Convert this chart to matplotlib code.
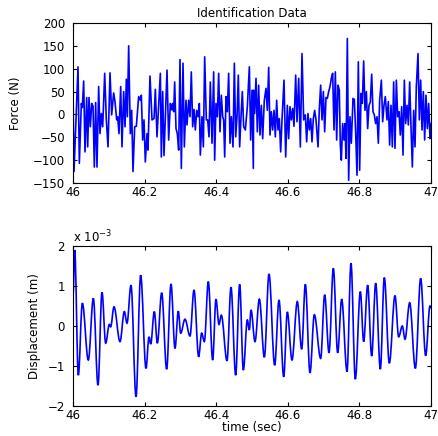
import numpy as np
import matplotlib
matplotlib.use("Agg")
import matplotlib.pyplot as plt
from matplotlib.path import Path
from matplotlib.patches import PathPatch

# ---------------- data ----------------
force_t = [
    0.0000, 0.0028, 0.0140, 0.0177, 0.0233, 0.0261, 0.0298, 0.0335, 0.0382, 0.0410,
    0.0447, 0.0484, 0.0522, 0.0559, 0.0596, 0.0633, 0.0670, 0.0717, 0.0754, 0.0791,
    0.0829, 0.0885, 0.0931, 0.0978, 0.1034, 0.1080, 0.1136, 0.1173, 0.1220, 0.1248,
    0.1285, 0.1332, 0.1369, 0.1415, 0.1453, 0.1490, 0.1518, 0.1555, 0.1601, 0.1639,
    0.1676, 0.1723, 0.1769, 0.1834, 0.1881, 0.1909, 0.1946, 0.1983, 0.2020, 0.2067,
    0.2095, 0.2151, 0.2207, 0.2263, 0.2300, 0.2346, 0.2393, 0.2440, 0.2467, 0.2505,
    0.2542, 0.2626, 0.2672, 0.2719, 0.2756, 0.2784, 0.2812, 0.2840, 0.2877, 0.2914,
    0.2952, 0.2989, 0.3026, 0.3073, 0.3110, 0.3156, 0.3184, 0.3231, 0.3268, 0.3305,
    0.3343, 0.3380, 0.3417, 0.3454, 0.3492, 0.3529, 0.3557, 0.3603, 0.3641, 0.3678,
    0.3724, 0.3762, 0.3799, 0.3836, 0.3883, 0.3929, 0.3957, 0.3994, 0.4032, 0.4069,
    0.4106, 0.4143, 0.4181, 0.4209, 0.4237, 0.4274, 0.4311, 0.4348, 0.4386, 0.4423,
    0.4469, 0.4507, 0.4544, 0.4581, 0.4618, 0.4655, 0.4693, 0.4730, 0.4767, 0.4814,
    0.4870, 0.4926, 0.4963, 0.5000, 0.5037, 0.5047, 0.5075, 0.5112, 0.5149, 0.5186,
    0.5223, 0.5261, 0.5298, 0.5344, 0.5391, 0.5428, 0.5466, 0.5503, 0.5540, 0.5577,
    0.5615, 0.5652, 0.5689, 0.5726, 0.5763, 0.5801, 0.5838, 0.5894, 0.5941, 0.5987,
    0.6024, 0.6061, 0.6099, 0.6136, 0.6173, 0.6220, 0.6257, 0.6304, 0.6350, 0.6397,
    0.6443, 0.6490, 0.6527, 0.6564, 0.6601, 0.6639, 0.6676, 0.6713, 0.6750, 0.6788,
    0.6844, 0.6881, 0.6918, 0.6955, 0.6993, 0.7030, 0.7067, 0.7104, 0.7142, 0.7179,
    0.7216, 0.7253, 0.7291, 0.7328, 0.7365, 0.7402, 0.7439, 0.7467, 0.7495, 0.7533,
    0.7570, 0.7598, 0.7626, 0.7663, 0.7700, 0.7737, 0.7775, 0.7821, 0.7858, 0.7896,
    0.7933, 0.7970, 0.8007, 0.8045, 0.8082, 0.8119, 0.8156, 0.8194, 0.8231, 0.8268,
    0.8305, 0.8343, 0.8380, 0.8417, 0.8454, 0.8492, 0.8529, 0.8566, 0.8613, 0.8650,
    0.8687, 0.8724, 0.8771, 0.8808, 0.8845, 0.8883, 0.8920, 0.8957, 0.8994, 0.9032,
    0.9069, 0.9106, 0.9143, 0.9181, 0.9218, 0.9255, 0.9292, 0.9330, 0.9367, 0.9404,
    0.9441, 0.9479, 0.9516, 0.9553, 0.9590, 0.9637, 0.9674, 0.9711, 0.9749, 0.9786,
    0.9823, 0.9860, 0.9898, 0.9935, 0.9972, 1.0000,
]
force_v = [
    46, -125, 104, -107, 24, 15, 73, -82, 37, -71,
    37, -27, 24, 18, -115, 26, -115, 61, -42, 2,
    -27, 90, -12, -71, 91, -1, 47, 28, -12, -5,
    -42, 61, -71, 50, -27, 77, -5, 150, -42, 9,
    -125, -27, -26, 39, 31, 42, -56, -12, -104, -42,
    -78, 84, -12, -9, 55, -49, 20, 90, -93, 50,
    -90, 97, -56, 24, 10, 24, 6, 71, -31, -42,
    -78, 120, -118, 112, -71, 31, -23, 31, -5, 93,
    -27, 11, -34, 9, -5, 24, -89, -5, -71, 126,
    -12, -12, -49, 71, -63, 93, -100, 24, -5, 90,
    -38, 42, -5, -12, -93, 39, 6, 90, -63, -5,
    -71, 112, -49, -5, 86, -71, -5, 50, -27, -34,
    17, 104, -56, 53, -118, 53, 2, 79, -38, 64,
    -45, 20, -53, 31, 57, 9, 103, -45, 6, -34,
    9, -49, 31, -34, -9, -82, -12, 75, -93, 20,
    -53, 17, -12, 13, -26, 86, -16, 79, -71, 133,
    -12, -1, -60, 2, -34, -9, -60, -9, 9, -12,
    -71, 13, 64, -12, 50, -38, 37, 35, 50, 61,
    79, 90, -34, 93, -56, 64, 53, -67, -100, -20,
    -56, -20, -96, 166, -144, -5, -63, 35, 33, -40,
    -133, 115, -122, 46, 24, 117, 9, 50, -31, 20,
    27, 88, 6, -1, -20, -5, -63, 31, 75, -16,
    20, 39, -12, 28, -67, 20, -71, 71, -74, 75,
    -5, 6, -45, 17, -89, 75, -20, 20, -23, 71,
    -27, -115, 9, -71, 61, 133, -12, 75, -34, 50,
    -56, 42, -31, 24, -53, -20,
]

# displacement turning points (time offset from 46 s, value in units of 1e-3 m)
disp_t = [
    0.0000, 0.0047, 0.0149, 0.0261, 0.0428, 0.0568, 0.0698, 0.0810, 0.0913, 0.1015,
    0.1052, 0.1145, 0.1313, 0.1434, 0.1508, 0.1620, 0.1760, 0.1890, 0.2039, 0.2123,
    0.2170, 0.2272, 0.2356, 0.2477, 0.2616, 0.2737, 0.2849, 0.2942, 0.3008, 0.3128,
    0.3268, 0.3380, 0.3510, 0.3594, 0.3669, 0.3780, 0.3901, 0.3994, 0.4078, 0.4143,
    0.4302, 0.4413, 0.4544, 0.4655, 0.4758, 0.4870, 0.4925, 0.4972, 0.5084, 0.5205,
    0.5345, 0.5475, 0.5633, 0.5754, 0.5885, 0.5987, 0.6117, 0.6266, 0.6387, 0.6490,
    0.6620, 0.6741, 0.6918, 0.7030, 0.7151, 0.7272, 0.7393, 0.7505, 0.7654, 0.7765,
    0.7886, 0.8026, 0.8119, 0.8231, 0.8343, 0.8455, 0.8585, 0.8696, 0.8836, 0.8994,
    0.9097, 0.9199, 0.9274, 0.9404, 0.9563, 0.9711, 0.9851, 0.9972, 1.0000,
]
disp_v = [
    0.75, 1.90, -1.23, 0.57, -0.85, 0.69, -1.48, 0.84, -0.43, 0.04,
    -0.02, 0.48, -0.39, 0.36, 0.07, 1.02, -1.77, 1.27, -1.06, -0.27,
    -0.45, 0.36, -0.43, 0.83, -1.08, 1.05, -0.56, 0.37, -0.18, 0.17,
    -0.25, 0.90, -0.77, -0.18, -0.39, 1.11, -0.85, 0.67, 0.04, 0.27,
    -0.87, 0.97, -1.23, 1.04, -1.10, 0.15, -0.10, 0.40, -0.39, 0.67,
    -0.78, 1.30, -0.98, 0.65, -1.27, 0.35, -0.85, 0.61, -0.58, 1.04,
    -1.17, 0.28, -0.81, 0.78, -0.67, 1.44, -0.67, 0.67, -1.14, 1.57,
    -1.33, 0.86, -0.39, 1.02, -0.75, 1.07, -1.08, 1.21, -0.93, 0.76,
    -0.27, 0.00, -0.33, 0.58, -1.06, 1.19, -0.74, 0.50, 0.45,
]

t0 = 46.0
xticks = [46, 46.2, 46.4, 46.6, 46.8, 47]
xticklabels = ["46", "46.2", "46.4", "46.6", "46.8", "47"]
force_yticks = [-150, -100, -50, 0, 50, 100, 150, 200]
disp_yticks = [-2, -1, 0, 1, 2]

# ---------------- figure ----------------
plt.rcParams['font.family'] = ['DejaVu Sans']
plt.rcParams['axes.unicode_minus'] = True
FS = 8.5

fig = plt.figure(figsize=(4.38, 4.36), dpi=100)
W, H = 438.0, 436.0
ax1 = fig.add_axes([73 / W, 1 - 183 / H, 358 / W, 160 / H])
ax2 = fig.add_axes([73 / W, 1 - 406 / H, 358 / W, 160 / H])

ft = t0 + np.array(force_t)
ax1.plot(ft, force_v, color=(0, 0, 1), lw=1.2)
ax1.set_xlim(46, 47)
ax1.set_ylim(-150, 200)
ax1.set_yticks(force_yticks)
ax1.set_ylabel("Force (N)", fontsize=FS, labelpad=8)
ax1.set_title("Identification Data", fontsize=FS, pad=4)

# displacement: smooth cubic segments through the read turning points
dt_ = t0 + np.array(disp_t)
dv_ = np.array(disp_v)
verts = [(dt_[0], dv_[0])]
codes = [Path.MOVETO]
k = 0.36
for i in range(len(dt_) - 1):
    a, b = dt_[i], dt_[i + 1]
    d = b - a
    verts += [(a + k * d, dv_[i]), (b - k * d, dv_[i + 1]), (b, dv_[i + 1])]
    codes += [Path.CURVE4] * 3
ax2.add_patch(PathPatch(Path(verts, codes), facecolor='none',
                        edgecolor=(0, 0, 1), lw=1.2))
ax2.set_xlim(46, 47)
ax2.set_ylim(-2, 2)
ax2.set_yticks(disp_yticks)
ax2.set_ylabel("Displacement (m)", fontsize=FS, labelpad=4.5)
ax2.set_xlabel("time (sec)", fontsize=FS, labelpad=-0.8)
ax2.text(0.0, 1.005, r"x 10$^{-3}$", transform=ax2.transAxes, fontsize=FS,
         ha='left', va='bottom')

for ax in (ax1, ax2):
    ax.set_xticks(xticks)
    ax.set_xticklabels(xticklabels)
    ax.tick_params(direction='in', length=3, width=0.8, top=True, right=True,
                   labelsize=FS)
    ax.tick_params(axis='y', pad=5.8)
    ax.tick_params(axis='x', pad=2.2)
    for s in ax.spines.values():
        s.set_linewidth(0.8)

fig.savefig("out.png", dpi=100)
